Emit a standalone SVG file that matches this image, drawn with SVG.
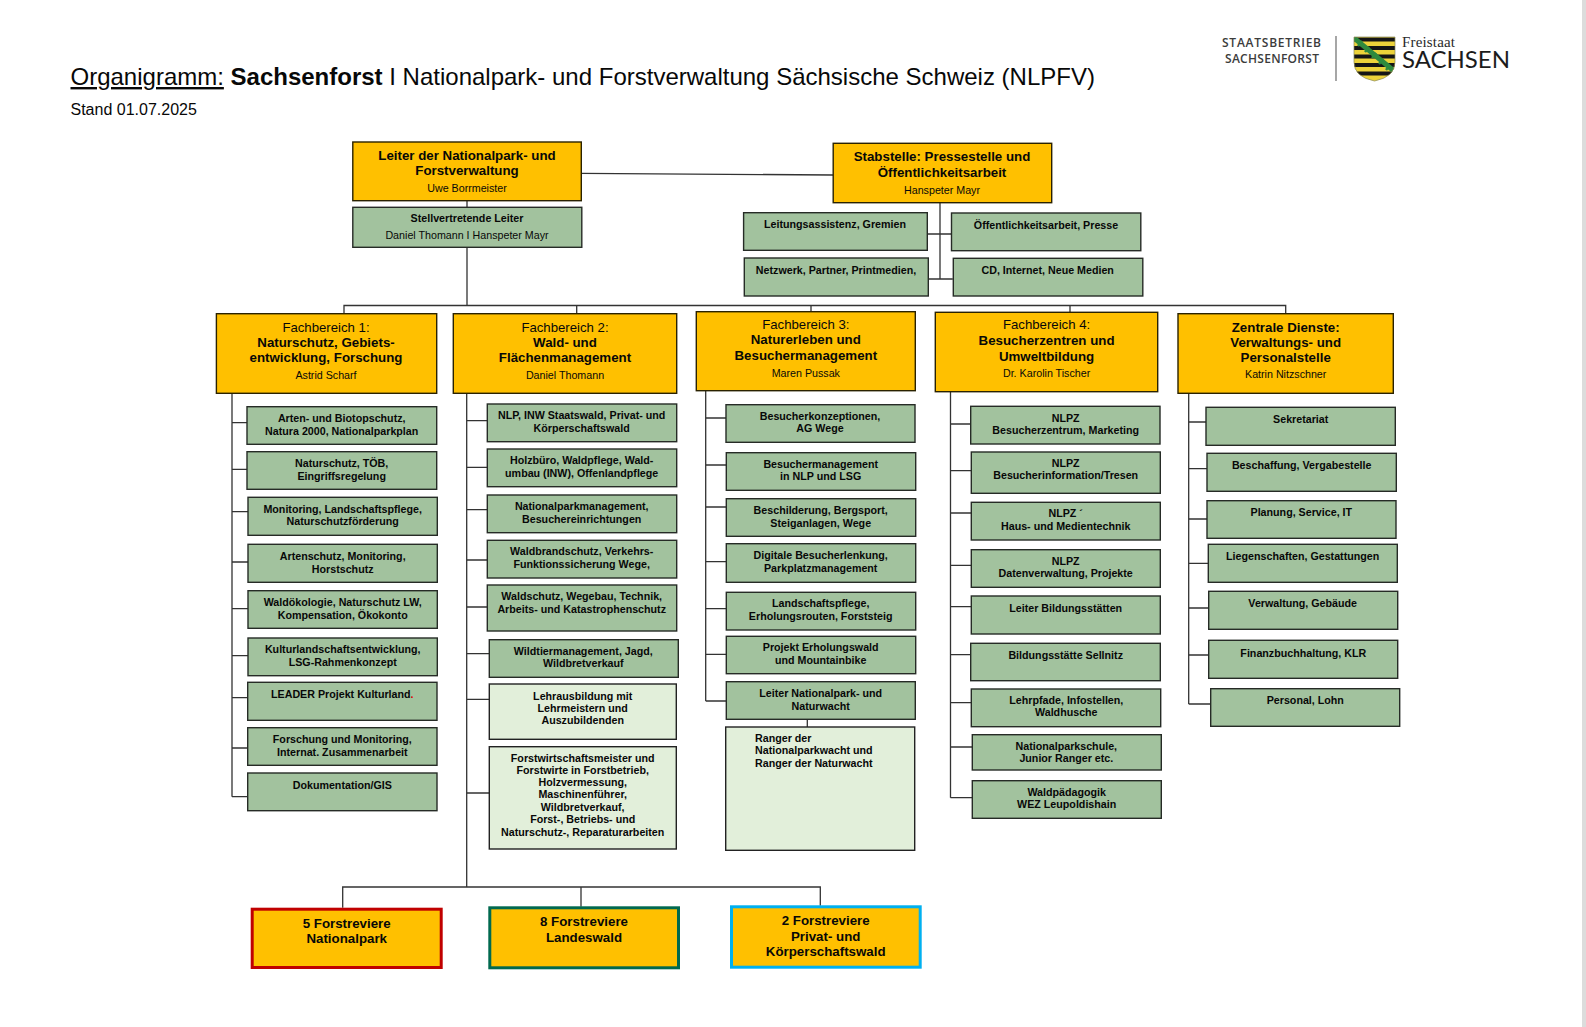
<svg xmlns="http://www.w3.org/2000/svg" width="1586" height="1027" viewBox="0 0 1586 1027">
<style>
text{font-family:"Liberation Sans",Arial,sans-serif;fill:#080808;text-anchor:middle}
.o{fill:#ffc000;stroke:#2a2200;stroke-width:1.4}
.g{fill:#a2c29e;stroke:#262b26;stroke-width:1.4}
.l{fill:#e2efda;stroke:#222;stroke-width:1.4}
.t{font-size:10.7px;font-weight:700}
.h{font-size:13.3px;font-weight:700}
.r{font-size:13.2px}
.n{font-size:10.7px}
.b{font-size:13.3px;font-weight:700}
#connectors path{fill:none;stroke:#333;stroke-width:1.3}
</style>
<defs><clipPath id="shield"><path d="M1354 37H1395V62Q1395 77 1374.500 81Q1354 77 1354 62Z"/></clipPath></defs>
<rect width="1586" height="1027" fill="#fff"/>
<rect x="1582" width="4" height="1027" fill="#dcdcdc"/>
<g id="title">
<text x="70.500" y="85" font-size="24px" style="text-anchor:start"><tspan text-decoration="underline">Organigramm:</tspan> <tspan font-weight="700">Sachsenforst</tspan> I Nationalpark- und Forstverwaltung Sächsische Schweiz (NLPFV)</text>
<text x="70.500" y="115" font-size="16px" style="text-anchor:start">Stand 01.07.2025</text>
</g>
<g id="logo">
<text x="1271.500" y="47" font-size="12px" style="font-family:'Open Sans',sans-serif;fill:#3c3c3c;font-weight:600" textLength="99">STAATSBETRIEB</text>
<text x="1272" y="63" font-size="12px" style="font-family:'Open Sans',sans-serif;fill:#3c3c3c;font-weight:600" textLength="94">SACHSENFORST</text>
<path d="M1336 36V81" stroke="#777" stroke-width="1.300" fill="none"/>
<g clip-path="url(#shield)">
<rect x="1353" y="36" width="43" height="46" fill="#ecd23a"/>
<path d="M1353 39.500H1396M1353 48H1396M1353 56.500H1396M1353 65H1396M1353 73.500H1396" stroke="#151515" stroke-width="4.200" fill="none"/>
<path d="M1354 38L1394 71" stroke="#2f8a3e" stroke-width="5" fill="none"/>
<path d="M1358 46L1362 41M1365 52L1369 47M1372 58L1376 53M1379 64L1383 59M1386 70L1390 65" stroke="#2f8a3e" stroke-width="2.500" fill="none"/>
</g>
<path d="M1354 37H1395V62Q1395 77 1374.500 81Q1354 77 1354 62Z" fill="none" stroke="#8a8a5a" stroke-width="0.700"/>
<text x="1402" y="47" font-size="15px" style="font-family:'Liberation Serif',serif;text-anchor:start;fill:#2a2a2a" textLength="53">Freistaat</text>
<text x="1402" y="67.500" font-size="23px" style="font-family:Lato,sans-serif;text-anchor:start;fill:#1c1c1c" textLength="108" lengthAdjust="spacingAndGlyphs">SACHSEN</text>
</g>
<g id="connectors">
<path d="M581 173.300L833 175"/>
<path d="M467 200.700V207.300M467 247.300V305.500M344 313.700V305.500H1285.700V313.700M576.700 305.500V313.700M811 305.500V311.700M1070 305.500V312.300"/>
<path d="M940 202.700V279M927.300 234H951.200M928.300 279H952.800"/>
<path d="M232 393.300V796.700M232 422.700H247M232 469.300H247M232 511.700H248M232 562H248M232 608.700H248M232 655.700H248M232 697.700H247.700M232 748H247.700M232 796.700H247.700"/>
<path d="M466.700 393.300V887M466.700 420.700H487.300M466.700 467.300H487.300M466.700 509.700H487.300M466.700 560H487.300M466.700 607H487.300M466.700 653.700H489.300M466.700 699.300H489.300M466.700 793H489.300"/>
<path d="M342.700 907.700V887H820.300V905.700M581 887V906.700"/>
<path d="M705.700 390.700V701M705.700 418H726M705.700 465H726.300M705.700 507H726.300M705.700 561.700H726.300M705.700 608.700H726.300M705.700 654.300H726.300M705.700 701H726.300M807.300 719.300V727"/>
<path d="M950.500 391.700V797.700M950.500 424H970.700M950.500 470.700H971.300M950.500 513H971.300M950.500 565.300H971.300M950.500 606.700H971.300M950.500 654.700H970.700M950.500 702.700H971.300M950.500 747H972.300M950.500 797.700H972.300"/>
<path d="M1188.700 393.300V704M1188.700 422H1206M1188.700 468.700H1207M1188.700 519H1207M1188.700 563.300H1208.300M1188.700 608H1208.700M1188.700 655H1208.700M1188.700 704H1210.700"/>
</g>
<g id="leiter"><rect class="o" x="352.800" y="142" width="228.500" height="58.700"/><text class="h" x="467" y="160">Leiter der Nationalpark- und</text><text class="h" x="467" y="175">Forstverwaltung</text><text class="n" x="467" y="191.700">Uwe Borrmeister</text></g>
<g id="stellv"><rect class="g" x="352.800" y="207.300" width="229" height="40"/><text class="t" x="467" y="221.700">Stellvertretende Leiter</text><text class="n" x="467" y="238.700">Daniel Thomann I Hanspeter Mayr</text></g>
<g id="stab"><rect class="o" x="833.200" y="143.300" width="218.500" height="59.400"/><text class="h" x="942" y="160.700">Stabstelle: Pressestelle und</text><text class="h" x="942" y="176.700">Öffentlichkeitsarbeit</text><text class="n" x="942" y="193.700">Hanspeter Mayr</text></g>
<g id="s1"><rect class="g" x="743.600" y="212.700" width="183.700" height="37.600"/><text class="t" x="835" y="227.700">Leitungsassistenz, Gremien</text></g>
<g id="s2"><rect class="g" x="951.500" y="213" width="189.300" height="37.700"/><text class="t" x="1046" y="228.700">Öffentlichkeitsarbeit, Presse</text></g>
<g id="s3"><rect class="g" x="744.300" y="258" width="184" height="38"/><text class="t" x="836" y="273.700">Netzwerk, Partner, Printmedien,</text></g>
<g id="s4"><rect class="g" x="953.300" y="258.300" width="189.500" height="37.700"/><text class="t" x="1047.700" y="273.700">CD, Internet, Neue Medien</text></g>
<g id="fb1"><rect class="o" x="216.400" y="313.700" width="220.300" height="79.600"/><text class="r" x="326" y="332">Fachbereich 1:</text><text class="h" x="326" y="346.700">Naturschutz, Gebiets-</text><text class="h" x="326" y="361.700">entwicklung, Forschung</text><text class="n" x="326" y="379">Astrid Scharf</text></g>
<g id="fb2"><rect class="o" x="453.300" y="313.700" width="223.400" height="79.600"/><text class="r" x="565" y="332">Fachbereich 2:</text><text class="h" x="565" y="346.700">Wald- und</text><text class="h" x="565" y="361.700">Flächenmanagement</text><text class="n" x="565" y="379">Daniel Thomann</text></g>
<g id="fb3"><rect class="o" x="696.300" y="311.700" width="219" height="79"/><text class="r" x="805.800" y="328.700">Fachbereich 3:</text><text class="h" x="805.800" y="343.700">Naturerleben und</text><text class="h" x="805.800" y="360">Besuchermanagement</text><text class="n" x="805.800" y="377">Maren Pussak</text></g>
<g id="fb4"><rect class="o" x="935.300" y="312.300" width="222.400" height="79.400"/><text class="r" x="1046.600" y="329.300">Fachbereich 4:</text><text class="h" x="1046.600" y="344.700">Besucherzentren und</text><text class="h" x="1046.600" y="360.700">Umweltbildung</text><text class="n" x="1046.600" y="377">Dr. Karolin Tischer</text></g>
<g id="zd"><rect class="o" x="1178" y="313.700" width="215.300" height="79.600"/><text class="h" x="1285.700" y="331.700">Zentrale Dienste:</text><text class="h" x="1285.700" y="346.700">Verwaltungs- und</text><text class="h" x="1285.700" y="361.700">Personalstelle</text><text class="n" x="1285.700" y="378.300">Katrin Nitzschner</text></g>
<g id="a1"><rect class="g" x="247" y="406.700" width="189.700" height="37.600"/><text class="t" x="341.700" y="422">Arten- und Biotopschutz,</text><text class="t" x="341.700" y="435">Natura 2000, Nationalparkplan</text></g>
<g id="a2"><rect class="g" x="247" y="451.700" width="189.700" height="37.600"/><text class="t" x="341.700" y="467">Naturschutz, TÖB,</text><text class="t" x="341.700" y="480">Eingriffsregelung</text></g>
<g id="a3"><rect class="g" x="248" y="497.300" width="189.300" height="38"/><text class="t" x="342.700" y="513">Monitoring, Landschaftspflege,</text><text class="t" x="342.700" y="525">Naturschutzförderung</text></g>
<g id="a4"><rect class="g" x="248" y="544.300" width="189.300" height="38"/><text class="t" x="342.700" y="560">Artenschutz, Monitoring,</text><text class="t" x="342.700" y="573">Horstschutz</text></g>
<g id="a5"><rect class="g" x="248" y="590.700" width="189.300" height="37.600"/><text class="t" x="342.700" y="606">Waldökologie, Naturschutz LW,</text><text class="t" x="342.700" y="619">Kompensation, Ökokonto</text></g>
<g id="a6"><rect class="g" x="248" y="638" width="189.300" height="37.700"/><text class="t" x="342.700" y="653">Kulturlandschaftsentwicklung,</text><text class="t" x="342.700" y="666">LSG-Rahmenkonzept</text></g>
<g id="a7"><rect class="g" x="247.700" y="682.300" width="189.300" height="38"/><text class="t" x="342.300" y="698">LEADER Projekt Kulturland<tspan style="fill:#e00000">.</tspan></text></g>
<g id="a8"><rect class="g" x="247.700" y="727.700" width="189.300" height="37.600"/><text class="t" x="342.300" y="743">Forschung und Monitoring,</text><text class="t" x="342.300" y="756">Internat. Zusammenarbeit</text></g>
<g id="a9"><rect class="g" x="247.700" y="773" width="189.300" height="37.700"/><text class="t" x="342.300" y="789">Dokumentation/GIS</text></g>
<g id="b1"><rect class="g" x="487.300" y="404" width="189.400" height="37.700"/><text class="t" x="581.700" y="419">NLP, INW Staatswald, Privat- und</text><text class="t" x="581.700" y="432">Körperschaftswald</text></g>
<g id="b2"><rect class="g" x="487.300" y="449" width="189.400" height="37.700"/><text class="t" x="581.700" y="464">Holzbüro, Waldpflege, Wald-</text><text class="t" x="581.700" y="477">umbau (INW), Offenlandpflege</text></g>
<g id="b3"><rect class="g" x="487.300" y="495" width="189.400" height="37.700"/><text class="t" x="581.700" y="510">Nationalparkmanagement,</text><text class="t" x="581.700" y="523">Besuchereinrichtungen</text></g>
<g id="b4"><rect class="g" x="487.300" y="540.300" width="189.400" height="37.700"/><text class="t" x="581.700" y="555">Waldbrandschutz, Verkehrs-</text><text class="t" x="581.700" y="568">Funktionssicherung Wege,</text></g>
<g id="b5"><rect class="g" x="487.300" y="585" width="189.400" height="46"/><text class="t" x="581.700" y="600">Waldschutz, Wegebau, Technik,</text><text class="t" x="581.700" y="613">Arbeits- und Katastrophenschutz</text></g>
<g id="b6"><rect class="g" x="489.300" y="639.700" width="189" height="37.600"/><text class="t" x="583.300" y="655">Wildtiermanagement, Jagd,</text><text class="t" x="583.300" y="666.700">Wildbretverkauf</text></g>
<g id="b7"><rect class="l" x="489.300" y="684" width="187" height="55.300"/><text class="t" x="582.700" y="700">Lehrausbildung mit</text><text class="t" x="582.700" y="712">Lehrmeistern und</text><text class="t" x="582.700" y="724">Auszubildenden</text></g>
<g id="b8"><rect class="l" x="489.300" y="746.700" width="187" height="102.300"/><text class="t" x="582.700" y="762">Forstwirtschaftsmeister und</text><text class="t" x="582.700" y="774">Forstwirte in Forstbetrieb,</text><text class="t" x="582.700" y="786.300">Holzvermessung,</text><text class="t" x="582.700" y="798">Maschinenführer,</text><text class="t" x="582.700" y="810.700">Wildbretverkauf,</text><text class="t" x="582.700" y="823">Forst-, Betriebs- und</text><text class="t" x="582.700" y="836">Naturschutz-, Reparaturarbeiten</text></g>
<g id="c1"><rect class="g" x="726" y="404.700" width="189" height="37.600"/><text class="t" x="820" y="420">Besucherkonzeptionen,</text><text class="t" x="820" y="432">AG Wege</text></g>
<g id="c2"><rect class="g" x="726.300" y="452.700" width="189.400" height="37.600"/><text class="t" x="820.700" y="468.300">Besuchermanagement</text><text class="t" x="820.700" y="480">in NLP und LSG</text></g>
<g id="c3"><rect class="g" x="726.300" y="498.700" width="189.400" height="37.600"/><text class="t" x="820.700" y="514.300">Beschilderung, Bergsport,</text><text class="t" x="820.700" y="527.300">Steiganlagen, Wege</text></g>
<g id="c4"><rect class="g" x="726.300" y="543.700" width="189.400" height="38.600"/><text class="t" x="820.700" y="559.300">Digitale Besucherlenkung,</text><text class="t" x="820.700" y="572.300">Parkplatzmanagement</text></g>
<g id="c5"><rect class="g" x="726.300" y="592.300" width="189.400" height="37.700"/><text class="t" x="820.700" y="607.300">Landschaftspflege,</text><text class="t" x="820.700" y="620.300">Erholungsrouten, Forststeig</text></g>
<g id="c6"><rect class="g" x="726.300" y="636.300" width="189.400" height="37.400"/><text class="t" x="820.700" y="651.300">Projekt Erholungswald</text><text class="t" x="820.700" y="664.300">und Mountainbike</text></g>
<g id="c7"><rect class="g" x="726.300" y="681.700" width="189" height="37.600"/><text class="t" x="820.700" y="697">Leiter Nationalpark- und</text><text class="t" x="820.700" y="710">Naturwacht</text></g>
<g id="c8"><rect class="l" x="725.700" y="727" width="189" height="123.300"/><text class="t" x="755" y="742" style="text-anchor:start">Ranger der</text><text class="t" x="755" y="754" style="text-anchor:start">Nationalparkwacht und</text><text class="t" x="755" y="767" style="text-anchor:start">Ranger der Naturwacht</text></g>
<g id="d1"><rect class="g" x="970.700" y="406.300" width="189.300" height="37.700"/><text class="t" x="1065.700" y="422">NLPZ</text><text class="t" x="1065.700" y="434">Besucherzentrum, Marketing</text></g>
<g id="d2"><rect class="g" x="971.300" y="452" width="189" height="41.300"/><text class="t" x="1065.700" y="467">NLPZ</text><text class="t" x="1065.700" y="479">Besucherinformation/Tresen</text></g>
<g id="d3"><rect class="g" x="971.300" y="502.300" width="189" height="37.700"/><text class="t" x="1065.700" y="517.300">NLPZ ´</text><text class="t" x="1065.700" y="530">Haus- und Medientechnik</text></g>
<g id="d4"><rect class="g" x="971.300" y="549.700" width="189" height="37.600"/><text class="t" x="1065.700" y="565">NLPZ</text><text class="t" x="1065.700" y="577">Datenverwaltung, Projekte</text></g>
<g id="d5"><rect class="g" x="971.300" y="596" width="189" height="38"/><text class="t" x="1065.700" y="612">Leiter Bildungsstätten</text></g>
<g id="d6"><rect class="g" x="970.700" y="643.300" width="189.600" height="37.400"/><text class="t" x="1065.700" y="659">Bildungsstätte Sellnitz</text></g>
<g id="d7"><rect class="g" x="971.300" y="689" width="189.400" height="37.700"/><text class="t" x="1066.300" y="704">Lehrpfade, Infostellen,</text><text class="t" x="1066.300" y="716">Waldhusche</text></g>
<g id="d8"><rect class="g" x="972.300" y="734.700" width="189" height="35.300"/><text class="t" x="1066.300" y="750">Nationalparkschule,</text><text class="t" x="1066.300" y="762">Junior Ranger etc.</text></g>
<g id="d9"><rect class="g" x="972.300" y="780.700" width="189" height="37.600"/><text class="t" x="1066.700" y="796">Waldpädagogik</text><text class="t" x="1066.700" y="808">WEZ Leupoldishain</text></g>
<g id="e1"><rect class="g" x="1206" y="407.300" width="189.300" height="38"/><text class="t" x="1300.700" y="423">Sekretariat</text></g>
<g id="e2"><rect class="g" x="1207" y="453.300" width="189.300" height="38"/><text class="t" x="1301.700" y="469">Beschaffung, Vergabestelle</text></g>
<g id="e3"><rect class="g" x="1207" y="500.700" width="189" height="37.600"/><text class="t" x="1301.300" y="516">Planung, Service, IT</text></g>
<g id="e4"><rect class="g" x="1208.300" y="544.300" width="189" height="38"/><text class="t" x="1302.700" y="560">Liegenschaften, Gestattungen</text></g>
<g id="e5"><rect class="g" x="1208.700" y="591.300" width="189" height="38"/><text class="t" x="1302.700" y="607">Verwaltung, Gebäude</text></g>
<g id="e6"><rect class="g" x="1208.700" y="640.300" width="189" height="38"/><text class="t" x="1303.300" y="657">Finanzbuchhaltung, KLR</text></g>
<g id="e7"><rect class="g" x="1210.700" y="688.700" width="189" height="37.600"/><text class="t" x="1305.300" y="704">Personal, Lohn</text></g>
<g id="f1"><rect x="252.200" y="909.200" width="189" height="58.300" fill="#ffc000" stroke="#c00000" stroke-width="3"/><text class="b" x="346.700" y="928.300">5 Forstreviere</text><text class="b" x="346.700" y="943.300">Nationalpark</text></g>
<g id="f2"><rect x="489.800" y="907.800" width="188.700" height="60" fill="#ffc000" stroke="#00694f" stroke-width="3"/><text class="b" x="584" y="926.300">8 Forstreviere</text><text class="b" x="584" y="942.300">Landeswald</text></g>
<g id="f3"><rect x="731.500" y="906.800" width="188.700" height="60.400" fill="#ffc000" stroke="#00b0f0" stroke-width="3"/><text class="b" x="825.700" y="925.300">2 Forstreviere</text><text class="b" x="825.700" y="941.300">Privat- und</text><text class="b" x="825.700" y="956.300">Körperschaftswald</text></g>
</svg>
